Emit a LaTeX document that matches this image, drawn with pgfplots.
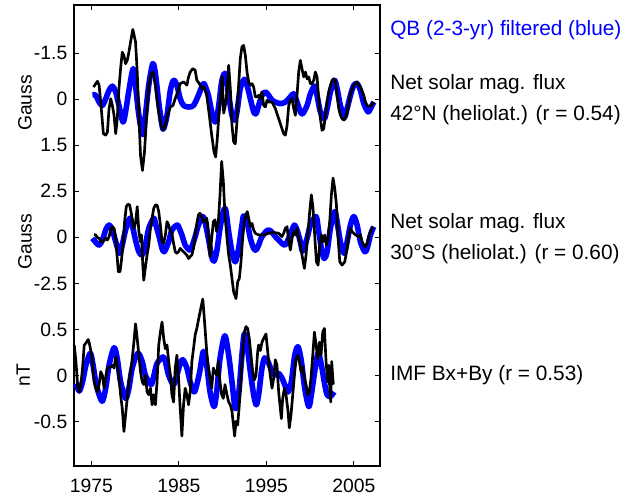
\documentclass[border=0pt]{standalone}
\usepackage{fontspec}
\setmainfont{Liberation Sans}
\usepackage{pgfplots}
\usepackage{pgfplotstable}
\pgfplotsset{compat=1.18}

% top panel: net solar flux 42N (Gauss, axis reversed)
\pgfplotstableread{
year v
1975.23 -0.40
1975.68 -0.59
1975.87 -0.46
1976.06 0.09
1976.36 1.12
1976.63 1.17
1976.82 1.07
1977.01 0.30
1977.20 -0.02
1977.39 0.20
1977.58 0.52
1977.77 1.12
1977.95 0.63
1978.14 -0.35
1978.33 -1.00
1978.52 -1.54
1978.71 -1.43
1978.90 -1.16
1979.09 -1.27
1979.28 -1.54
1979.47 -1.87
1979.73 -2.28
1980.04 -1.87
1980.23 -0.89
1980.42 0.52
1980.61 1.83
1980.83 2.32
1981.06 1.72
1981.29 0.63
1981.55 -0.46
1981.82 -0.84
1982.05 -0.89
1982.31 -0.46
1982.58 0.20
1982.88 0.74
1983.18 1.01
1983.45 0.85
1983.71 0.52
1984.02 0.25
1984.32 0.20
1984.58 -0.02
1984.85 -0.24
1985.15 -0.51
1985.53 -0.57
1985.91 -0.46
1986.10 -0.73
1986.29 -0.89
1986.59 -1.00
1986.86 -0.95
1987.05 -0.62
1987.35 -0.51
1987.61 -0.35
1987.88 -0.40
1988.18 -0.13
1988.48 0.52
1988.75 1.17
1989.02 1.72
1989.20 1.88
1989.39 1.28
1989.62 0.30
1989.77 -0.13
1989.95 -0.75
1990.12 0.45
1990.31 0.20
1990.50 -0.24
1990.69 -1.11
1990.88 -0.35
1991.07 0.85
1991.26 1.39
1991.45 1.45
1991.64 0.74
1991.83 -0.46
1992.02 -1.33
1992.21 -1.71
1992.40 -1.76
1992.60 -1.43
1992.79 -0.89
1992.98 -0.57
1993.17 -0.46
1993.36 -0.51
1993.55 -0.40
1993.74 -0.08
1993.93 -0.08
1994.12 -0.13
1994.31 -0.02
1994.50 -0.24
1994.69 0.20
1994.89 0.25
1995.08 0.03
1995.27 0.09
1995.65 0.09
1996.03 0.30
1996.41 0.63
1996.79 0.96
1996.98 1.12
1997.18 1.17
1997.37 0.85
1997.56 0.20
1997.75 0.03
1997.94 -0.02
1998.13 0.30
1998.32 0.52
1998.51 -0.13
1998.70 -0.89
1998.89 -1.27
1999.08 -1.00
1999.27 -0.73
1999.47 -0.89
1999.66 -0.67
1999.85 -0.73
2000.04 -0.51
2000.23 -0.51
2000.42 -0.62
2000.61 -0.89
2000.80 -0.73
2000.99 -0.02
2001.18 0.63
2001.37 1.01
2001.56 0.96
2001.76 0.52
2001.95 0.09
2002.14 -0.24
2002.33 -0.46
2002.52 -0.62
2002.71 -0.67
2002.90 -0.57
2003.09 -0.13
2003.28 0.30
2003.47 0.52
2003.66 0.63
2003.85 0.68
2004.05 0.63
2004.24 0.41
2004.43 0.14
2004.62 -0.18
2005.00 -0.46
2005.38 -0.57
2005.76 -0.40
2006.15 -0.13
2006.34 0.09
2006.53 0.20
2006.72 0.23
2007.02 0.20
2007.29 0.09
}\northdata

\pgfplotstableread{
year v
1975.11 -0.15
1975.49 -0.13
1975.87 0.09
1976.25 0.20
1976.63 -0.02
1977.01 -0.29
1977.39 -0.43
1977.77 -0.24
1978.14 0.20
1978.60 0.74
1978.90 0.41
1979.28 -0.29
1979.77 -1.00
1980.04 -0.46
1980.42 0.52
1980.87 1.15
1981.17 0.52
1981.55 -0.46
1982.01 -1.16
1982.31 -0.84
1982.69 0.09
1983.07 0.85
1983.26 0.96
1983.64 0.52
1984.02 -0.29
1984.39 -0.62
1984.77 -0.46
1985.15 -0.02
1985.53 0.20
1986.10 0.25
1986.67 0.20
1987.23 -0.13
1987.61 -0.40
1987.88 -0.51
1988.37 -0.13
1988.75 0.41
1989.13 0.74
1989.51 0.30
1989.89 -0.57
1990.19 -0.84
1990.35 -0.75
1990.69 -0.13
1991.07 0.52
1991.37 0.68
1991.64 0.41
1992.02 -0.35
1992.48 -0.65
1992.79 -0.46
1993.17 -0.02
1993.55 0.41
1993.82 0.47
1994.12 0.20
1994.50 -0.13
1994.89 -0.24
1995.27 -0.13
1995.65 0.03
1996.03 0.09
1996.60 0.14
1997.18 0.09
1997.75 -0.08
1998.13 -0.18
1998.51 0.09
1998.89 0.41
1999.16 0.47
1999.66 0.20
2000.04 -0.18
2000.53 -0.43
2000.80 -0.13
2001.18 0.41
2001.64 0.63
2001.95 0.30
2002.33 -0.24
2002.79 -0.62
2003.09 -0.35
2003.47 0.20
2003.93 0.58
2004.24 0.30
2004.62 -0.13
2005.00 -0.46
2005.38 -0.51
2005.76 -0.29
2006.15 0.14
2006.64 0.41
2006.91 0.30
2007.29 0.09
}\northqb

% middle panel: net solar flux 30S (Gauss)
\pgfplotstableread{
year v
1975.30 0.16
1975.49 0.13
1975.68 -0.02
1975.87 -0.05
1976.06 -0.20
1976.25 -0.27
1976.44 -0.15
1976.63 -0.05
1976.82 -0.15
1977.01 0.04
1977.20 0.40
1977.39 0.58
1977.58 0.49
1977.77 -0.05
1977.95 -1.15
1978.07 -1.87
1978.26 -1.87
1978.41 -1.33
1978.64 -0.24
1978.79 0.85
1978.98 1.67
1979.17 1.80
1979.36 1.76
1979.55 1.31
1979.73 0.76
1979.85 0.49
1980.04 0.76
1980.23 1.67
1980.42 0.31
1980.61 -0.24
1980.72 0.13
1980.87 -1.51
1980.98 -2.33
1981.10 -1.87
1981.25 -1.33
1981.36 -0.96
1981.55 -0.42
1981.74 0.49
1981.93 1.04
1982.12 1.58
1982.31 1.76
1982.50 1.76
1982.69 1.40
1982.88 0.67
1983.07 -0.24
1983.26 -0.33
1983.45 0.13
1983.64 0.85
1983.83 0.67
1984.02 0.31
1984.20 0.22
1984.39 -0.33
1984.58 -0.78
1984.77 -0.87
1984.96 -0.78
1985.15 -0.60
1985.34 -0.69
1985.53 -0.78
1985.72 -0.87
1985.91 -0.96
1986.10 -1.15
1986.29 -1.05
1986.48 -0.96
1986.67 -0.60
1986.86 0.13
1987.05 0.76
1987.23 1.22
1987.42 1.31
1987.61 1.13
1987.80 0.85
1987.99 0.85
1988.18 1.04
1988.30 0.67
1988.45 -0.42
1988.56 -1.05
1988.75 -0.05
1988.94 0.85
1989.13 0.95
1989.32 0.31
1989.51 0.85
1989.70 2.31
1989.89 4.13
1990.08 3.04
1990.27 1.22
1990.50 -0.05
1990.69 -0.96
1990.88 -1.51
1991.07 -2.24
1991.26 -2.96
1991.53 -3.33
1991.72 -2.42
1991.91 -2.24
1992.10 -1.33
1992.29 -0.05
1992.48 0.85
1992.67 1.22
1992.82 1.40
1992.98 1.04
1993.17 0.58
1993.36 0.76
1993.55 0.40
1993.74 0.22
1994.12 0.13
1994.50 0.13
1994.89 0.16
1995.27 0.22
1995.65 0.27
1996.03 0.25
1996.41 0.22
1996.79 0.04
1996.98 0.22
1997.18 0.49
1997.37 0.58
1997.56 -0.24
1997.75 -0.69
1997.94 -0.05
1998.13 0.31
1998.32 0.13
1998.51 0.49
1998.70 -0.05
1998.89 -0.42
1999.08 -0.96
1999.35 -1.69
1999.54 -0.96
1999.77 0.31
1999.96 1.40
2000.15 2.31
2000.34 1.58
2000.53 0.13
2000.73 -1.33
2000.92 -1.51
2001.11 -0.42
2001.30 0.13
2001.49 -0.24
2001.68 0.13
2001.87 -0.42
2002.06 -0.05
2002.25 0.85
2002.44 2.31
2002.63 3.22
2002.82 2.67
2003.02 1.76
2003.21 -0.05
2003.40 -1.33
2003.66 -1.51
2003.97 -1.33
2004.24 -0.60
2004.43 0.13
2004.62 0.49
2004.81 0.31
2005.19 0.13
2005.57 0.04
2005.76 0.13
2005.95 -0.24
2006.15 -0.42
2006.34 -0.51
2006.53 -0.33
2006.72 0.04
2006.98 0.40
2007.21 0.58
}\southdata

\pgfplotstableread{
year v
1975.11 -0.05
1975.49 -0.27
1975.87 -0.42
1976.25 -0.15
1976.63 0.40
1977.01 0.67
1977.39 0.40
1977.77 -0.24
1978.22 -0.87
1978.52 -0.42
1978.90 0.40
1979.39 1.04
1979.66 0.67
1980.04 -0.15
1980.42 -0.78
1980.80 -0.96
1981.17 -0.42
1981.55 0.49
1982.12 1.04
1982.31 0.76
1982.69 0.13
1983.07 -0.60
1983.33 -0.78
1983.83 -0.24
1984.20 0.40
1984.77 0.67
1984.96 0.58
1985.34 0.13
1985.72 -0.42
1986.21 -0.69
1986.48 -0.51
1986.86 0.04
1987.23 0.67
1987.73 1.13
1987.99 0.85
1988.37 -0.05
1988.75 -1.05
1989.02 -1.29
1989.32 -0.78
1989.70 0.49
1990.08 1.40
1990.35 1.50
1990.69 0.31
1991.07 -0.78
1991.45 -1.33
1991.83 -0.60
1992.21 0.67
1992.40 1.16
1992.79 0.85
1993.17 -0.05
1993.55 -0.60
1993.82 -0.69
1994.12 -0.42
1994.50 0.04
1995.19 0.40
1995.65 0.27
1996.03 0.04
1996.41 -0.15
1997.10 -0.42
1997.56 -0.05
1997.94 0.40
1998.21 0.67
1998.51 0.40
1998.89 -0.24
1999.16 -0.75
1999.66 -0.05
2000.04 0.67
2000.69 1.13
2000.99 0.31
2001.37 -0.78
2001.64 -1.15
2001.95 -0.78
2002.33 0.49
2002.82 1.40
2003.09 0.85
2003.47 -0.24
2003.89 -0.87
2004.24 -0.24
2004.62 0.67
2005.00 1.13
2005.38 0.67
2005.76 -0.24
2006.26 -0.78
2006.53 -0.60
2006.91 0.13
2007.29 0.58
}\southqb

% bottom panel: IMF Bx+By (nT)
\pgfplotstableread{
year v
1973.03 0.33
1973.22 0.15
1973.41 -0.10
1973.60 -0.18
1973.79 -0.10
1973.98 0.08
1974.17 0.33
1974.36 0.35
1974.62 0.39
1974.73 0.36
1974.92 0.27
1975.11 0.15
1975.30 -0.07
1975.49 -0.14
1975.68 -0.18
1975.87 -0.10
1976.06 0.04
1976.25 0.00
1976.44 -0.14
1976.63 -0.03
1976.82 0.08
1977.01 0.09
1977.20 0.09
1977.39 0.11
1977.58 0.08
1977.77 0.20
1977.95 0.11
1978.14 -0.03
1978.33 -0.21
1978.52 -0.36
1978.71 -0.61
1978.90 -0.43
1979.09 -0.25
1979.28 -0.07
1979.47 0.04
1979.66 0.18
1979.85 0.36
1980.04 0.56
1980.23 0.40
1980.42 0.22
1980.61 0.04
1980.80 -0.07
1980.98 -0.10
1981.17 0.00
1981.36 -0.18
1981.55 -0.21
1981.74 -0.14
1981.93 -0.32
1982.12 -0.21
1982.31 -0.32
1982.50 -0.07
1982.69 0.33
1982.88 0.47
1983.07 0.58
1983.26 0.40
1983.45 0.29
1983.64 0.33
1983.83 0.15
1984.02 0.00
1984.20 -0.21
1984.39 -0.29
1984.58 0.08
1984.77 0.22
1984.96 -0.03
1985.15 -0.36
1985.34 -0.66
1985.53 -0.32
1985.72 -0.14
1985.91 -0.21
1986.10 -0.32
1986.29 -0.18
1986.48 0.15
1986.67 0.29
1986.86 0.44
1987.05 0.51
1987.23 0.60
1987.42 0.69
1987.73 0.83
1987.88 0.65
1987.99 0.51
1988.18 0.26
1988.37 0.08
1988.56 -0.03
1988.75 -0.14
1988.94 0.08
1989.13 0.04
1989.32 0.00
1989.51 0.15
1989.70 -0.07
1989.89 -0.21
1990.08 -0.25
1990.27 -0.10
1990.50 -0.21
1990.69 -0.29
1990.88 -0.32
1991.07 -0.39
1991.37 -0.66
1991.53 -0.50
1991.72 -0.54
1991.91 -0.32
1992.10 0.00
1992.29 0.26
1992.48 0.47
1992.67 0.53
1992.86 0.51
1993.05 0.40
1993.24 0.22
1993.44 0.04
1993.63 -0.05
1993.82 0.00
1994.01 0.26
1994.12 0.33
1994.31 0.27
1994.50 0.36
1994.69 0.40
1994.96 0.45
1995.08 0.33
1995.27 0.15
1995.46 -0.01
1995.65 -0.14
1995.84 -0.03
1996.03 0.17
1996.22 0.11
1996.41 -0.18
1996.60 -0.36
1996.72 -0.47
1996.87 -0.25
1997.06 -0.14
1997.25 -0.21
1997.48 -0.39
1997.63 -0.57
1997.82 -0.43
1998.02 -0.21
1998.21 0.00
1998.40 0.18
1998.59 0.22
1998.78 0.15
1998.97 0.04
1999.16 0.09
1999.35 -0.03
1999.54 -0.10
1999.73 -0.21
1999.92 -0.18
2000.11 -0.03
2000.31 0.22
2000.50 0.47
2000.69 0.33
2000.88 0.18
2001.07 0.36
2001.26 0.22
2001.45 0.47
2001.64 0.51
2001.83 0.15
2002.02 -0.07
2002.14 0.11
2002.25 -0.14
2002.37 -0.29
2002.48 0.15
2002.60 -0.03
2002.67 -0.10
}\imfdata

\pgfplotstableread{
year v
1973.22 -0.09
1973.60 -0.17
1973.98 -0.07
1974.36 0.11
1974.85 0.24
1975.11 0.15
1975.49 -0.07
1975.87 -0.21
1976.25 -0.28
1976.63 -0.14
1977.01 0.11
1977.58 0.30
1977.95 0.18
1978.33 -0.07
1978.90 -0.25
1979.28 -0.14
1979.66 0.08
1980.30 0.24
1980.80 0.15
1981.17 0.00
1981.82 -0.10
1982.12 -0.01
1982.50 0.13
1983.18 0.20
1983.45 0.15
1983.83 0.00
1984.39 -0.10
1984.77 0.00
1985.15 0.13
1985.45 0.17
1985.91 0.08
1986.29 -0.07
1986.74 -0.18
1987.05 -0.10
1987.42 0.06
1987.80 0.26
1988.18 0.11
1988.56 -0.18
1989.02 -0.34
1989.32 -0.18
1989.70 0.18
1990.25 0.43
1990.69 0.22
1991.07 -0.07
1991.45 -0.36
1991.83 -0.21
1992.21 0.22
1992.48 0.45
1992.79 0.33
1993.17 0.04
1993.55 -0.21
1993.85 -0.32
1994.12 -0.21
1994.50 0.08
1994.81 0.19
1995.19 0.15
1995.65 0.04
1996.03 0.00
1996.41 0.02
1996.79 -0.03
1997.18 -0.12
1997.48 -0.18
1997.86 -0.07
1998.25 0.22
1998.63 0.31
1999.01 0.15
1999.39 -0.14
1999.85 -0.34
2000.15 -0.21
2000.53 0.04
2000.92 0.24
2001.30 0.11
2001.68 -0.10
2001.95 -0.21
2002.33 -0.23
2002.75 -0.18
}\imfqb

\begin{document}
\begin{tikzpicture}[x=0.75pt,y=0.75pt,font=\fontsize{14.5}{17}\selectfont]
\path[use as bounding box] (0pt,0pt) rectangle (471.75pt,375.75pt);
\begin{axis}[
    at={(55.5pt,26.25pt)}, anchor=south west,
    scale only axis, width=229.5pt, height=345.75pt,
    xmin=1973, xmax=2008, ymin=-1.97, ymax=8.05,
    xtick={1975,1985,1995,2005},
    xticklabels={1975,1985,1995,2005},
    ytick={-1,0,1,2,3,4,5,6,7},
    yticklabels={-0.5,0,0.5,-2.5,0,2.5,1.5,0,-1.5},
    tick align=inside, major tick length=3.75pt,
    axis line style={line width=0.9pt},
    every tick/.style={black, line width=0.75pt},
    tick label style={font=\fontsize{14.5}{17}\selectfont},
    xticklabel style={yshift=-6pt},
    yticklabel style={xshift=-1.5pt},
    clip=false,
]
\addplot[blue, line width=4.2pt, smooth, line join=round] table[x=year, y expr=6-\thisrow{v}/1.5] {\northqb};
\addplot[black, line width=2pt, line join=round] table[x=year, y expr=6-\thisrow{v}/1.5] {\northdata};
\addplot[blue, line width=4.2pt, smooth, line join=round] table[x=year, y expr=3+\thisrow{v}/2.5] {\southqb};
\addplot[black, line width=2pt, line join=round] table[x=year, y expr=3+\thisrow{v}/2.5] {\southdata};
\addplot[blue, line width=4.2pt, smooth, line join=round] table[x=year, y expr=2*\thisrow{v}] {\imfqb};
\addplot[black, line width=2pt, line join=round] table[x=year, y expr=2*\thisrow{v}] {\imfdata};
\end{axis}
\node[rotate=90, anchor=base, inner sep=0pt] at (31.5,398) {Gauss};
\node[rotate=90, anchor=base, inner sep=0pt] at (31.5,259.3) {Gauss};
\node[rotate=90, anchor=base, inner sep=0pt] at (30,126) {nT};
\begin{scope}[font=\fontsize{15.6}{18}\selectfont]
\node[anchor=base west, inner sep=0pt, text=blue] at (390,465.3) {QB (2-3-yr) filtered (blue)};
\node[anchor=base west, inner sep=0pt] at (390,411) {Net solar mag. flux};
\node[anchor=base west, inner sep=0pt] at (390,380) {42°N (heliolat.) (r = 0.54)};
\node[anchor=base west, inner sep=0pt] at (390,272.7) {Net solar mag. flux};
\node[anchor=base west, inner sep=0pt] at (390,241.7) {30°S (heliolat.) (r = 0.60)};
\node[anchor=base west, inner sep=0pt] at (390,121) {IMF Bx+By (r = 0.53)};
\end{scope}
\end{tikzpicture}
\end{document}
